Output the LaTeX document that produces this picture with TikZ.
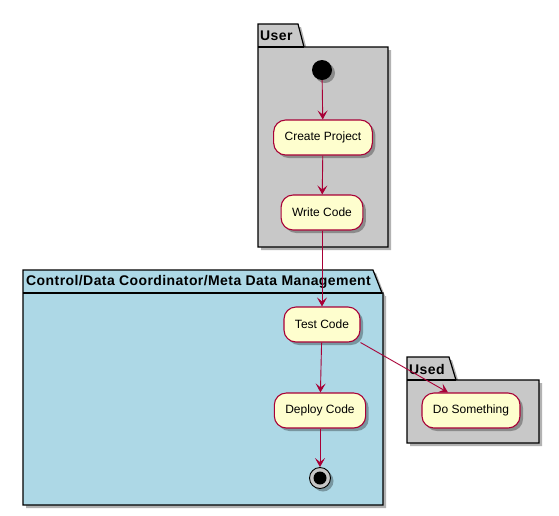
\documentclass[tikz,border=0pt]{standalone}
\usepackage{fontspec}
\setmainfont{Liberation Sans}
\newfontfamily\pkgfont[LetterSpace=3]{Liberation Sans Bold}
\usetikzlibrary{arrows.meta,shadows}

\definecolor{umlred}{HTML}{A80036}
\definecolor{umlbox}{HTML}{FEFECE}
\definecolor{umlgray}{HTML}{C8C8C8}
\definecolor{umlblue}{HTML}{ADD8E6}

\tikzset{
	softshadow/.style={drop shadow={shadow xshift=3pt,shadow yshift=-3pt,fill=black,opacity=0.3}},
	pkg/.style={draw=black,line width=1.2pt,softshadow},
	pkgtitle/.style={anchor=west,inner sep=0pt,font=\pkgfont\fontsize{14}{16}\selectfont},
	activity/.style={rectangle,rounded corners=12pt,draw=umlred,fill=umlbox,line width=1.1pt,
		minimum height=35pt,inner xsep=11pt,font=\fontsize{12}{14}\selectfont,softshadow},
	flow/.style={draw=umlred,line width=0.9pt,-{Stealth[length=9pt,width=10pt,inset=4pt]}}
}

\begin{document}
\begin{tikzpicture}[x=1pt,y=-1pt]
	\useasboundingbox (0,0) rectangle (559,515);
	
	% packages
	\filldraw[pkg,fill=umlgray] (258,24) -- (298,24) -- (304,47) -- (388,47) -- (388,247) -- (258,247) -- cycle;
	\draw[line width=1.2pt] (258,47) -- (304,47);
	\node[pkgtitle] (userlbl) at (260,36) {User};
	
	\filldraw[pkg,fill=umlblue] (23,270) -- (373,270) -- (382,293) -- (383,293) -- (383,505) -- (23,505) -- cycle;
	\draw[line width=1.2pt] (23,293) -- (382,293);
	\node[pkgtitle] (ctrllbl) at (26,282) {Control/Data Coordinator/Meta Data Management};
	
	\filldraw[pkg,fill=umlgray] (407,357) -- (449,357) -- (456,380) -- (539,380) -- (539,443) -- (407,443) -- cycle;
	\draw[line width=1.2pt] (407,380) -- (456,380);
	\node[pkgtitle] (usedlbl) at (409,369) {Used};
	
	% start and end
	\node[circle,fill=black,minimum size=20pt,inner sep=0pt,softshadow] (start) at (322,70) {};
	\node[circle,draw=black,fill=gray!45,line width=0.9pt,minimum size=21pt,inner sep=0pt,softshadow] (stop) at (320,478) {};
	\node[circle,fill=black,minimum size=13pt,inner sep=0pt] (stopdot) at (stop) {};
	
	% activities
	\node[activity] (create) at (323,137.5) {Create Project};
	\node[activity] (write) at (322,212.5) {Write Code};
	\node[activity] (test) at (322,324.5) {Test Code};
	\node[activity] (deploy) at (320,410.5) {Deploy Code};
	\node[activity] (something) at (471,410.5) {Do Something};
	\coordinate (somethingin) at ([xshift=-23pt]something.north);
	
	% flows
	\draw[flow] (start) -- (create);
	\draw[flow] (create) -- (write);
	\draw[flow] (write) -- (test);
	\draw[flow] (test) -- (deploy);
	\draw[flow] (deploy) -- (stop);
	\draw[flow] (test.south east) -- (somethingin);
	
\end{tikzpicture}
\end{document}
